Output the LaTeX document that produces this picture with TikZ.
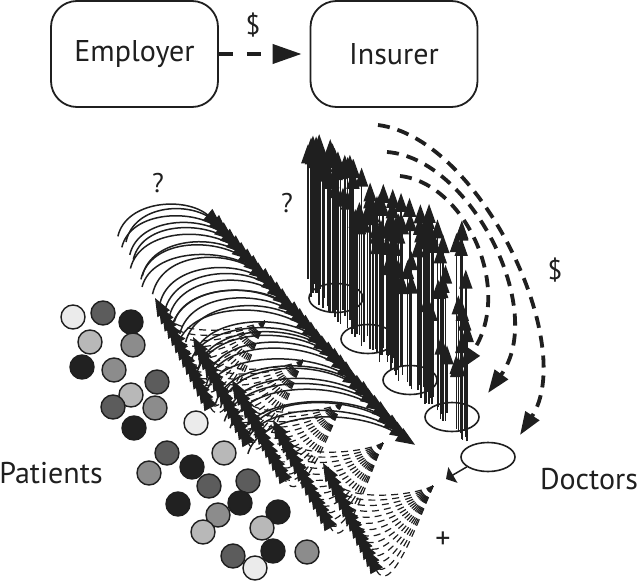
\documentclass[tikz,border=0pt]{standalone}
\usepackage{fontspec}
\setmainfont{PT Sans}
\usetikzlibrary{arrows.meta,shapes.geometric}
\definecolor{ink}{gray}{0.12}
\definecolor{pvl}{gray}{0.92}
\definecolor{plg}{gray}{0.72}
\definecolor{pmg}{gray}{0.55}
\definecolor{pdg}{gray}{0.36}
\definecolor{pbk}{gray}{0.13}
\begin{document}
\begin{tikzpicture}[x=1pt,y=-1pt,
  box/.style={draw=ink, line width=1.8pt, rounded corners=26pt, minimum width=167pt, minimum height=106pt, inner sep=0pt, font=\fontsize{30}{32}\selectfont, text=ink},
  doc/.style={draw=ink, line width=1.6pt, ellipse, minimum width=54pt, minimum height=29pt, inner sep=0pt},
  pat/.style={circle, draw=ink, line width=1.4pt, minimum size=24pt, inner sep=0pt},
  lbl/.style={font=\fontsize{30}{32}\selectfont, text=ink, inner sep=0pt},
  sym/.style={font=\fontsize{27}{29}\selectfont, text=ink, inner sep=0pt},
  money/.style={line width=4pt, draw=ink, dash pattern=on 14pt off 14pt, -{Triangle[length=29pt,width=19pt]}},
  moneyarc/.style={line width=3.8pt, draw=ink, dash pattern=on 12pt off 8pt, -{Triangle[length=23pt,width=16pt]}},
  varr/.style={line width=1.5pt, draw=ink, -{Triangle[length=19pt,width=13pt]}},
  sarc/.style={line width=1.5pt, draw=ink, -{Triangle[length=19pt,width=15pt]}},
  darc/.style={line width=1.2pt, draw=ink, dash pattern=on 7pt off 5pt, -{Triangle[length=18pt,width=14pt]}},
]
\useasboundingbox (0,0) rectangle (640,581);

% top boxes
\node[box] (emp) at (134.5,54) {Employer};
\node[box] (ins) at (394,54) {Insurer};
\draw[money] (emp.east) -- ([xshift=-8pt]ins.west);
\node[sym] (d1lab) at (253,25) {\$};

% solid arcs (patients -> doctors)
\pgfmathsetseed{4242}
\foreach \k in {0,...,33}{
  \pgfmathsetmacro\ex{222+5.85*\k}
  \pgfmathsetmacro\ey{227+6.6*\k}
  \pgfmathsetmacro\jit{rnd}
  \pgfmathsetmacro\L{100+1.8*\k+14*\jit}
  \pgfmathsetmacro\sx{\ex-\L}
  \pgfmathsetmacro\sy{\ey+6+6*rnd}
  \pgfmathsetmacro\h{\L*(0.36-0.003*\k)*(0.9+0.2*rnd)}
  \draw[sarc] (\sx,\sy) .. controls +(0.08*\L,-\h) and +(-0.35*\L,-0.85*\h) .. (\ex,\ey);
}

% dashed arcs (doctors -> patients): each band fans out from one point
\foreach \tx/\ty/\bx/\by in {155/298/202/392, 193/337/240/428, 232/380/277/465, 273/420/322/512, 323/463/368/555}{
  \coordinate (fan) at (\tx+110,\ty+23);
  \foreach \j in {0,...,13}{
    \pgfmathsetmacro\px{\tx+(\bx-\tx)*\j/13}
    \pgfmathsetmacro\py{\ty+(\by-\ty)*\j/13}
    \draw[darc] (fan) .. controls +(-20,10+3*\j) and +(22,40) .. (\px,\py);
  }
}

% vertical arrows (doctors -> insurer)
\pgfmathsetseed{12345}
\foreach \i in {1,...,115}{
  \pgfmathsetmacro\u{rnd}
  \pgfmathsetmacro\xx{306+162*\u}
  \pgfmathsetmacro\v{rnd}
  \pgfmathsetmacro\ytop{122+(\xx-306)*0.6+\v*(20+(\xx-306)*0.85)}
  \pgfmathsetmacro\w{rnd}
  \pgfmathsetmacro\ybot{275+(\xx-306)*0.95+18*\w}
  \draw[varr] (\xx,\ybot) -- (\xx,\ytop);
}

% dashed money arcs (insurer -> doctors)
\draw[moneyarc] (378,125) .. controls (480,138) and (578,345) .. (520,435);
\draw[moneyarc] (387,152) .. controls (470,158) and (548,310) .. (488,393);
\draw[moneyarc] (400,176) .. controls (465,183) and (515,290) .. (460,370);
\node[sym] (d2lab) at (555,270) {\$};

% doctors
\node[doc] (d1) at (336,298) {};
\node[doc] (d2) at (368,339) {};
\node[doc] (d3) at (410,380) {};
\node[doc] (d4) at (452,417) {};
\node[doc] (d5) at (488,457) {};
\coordinate (d5end) at (446,479);
\draw[line width=1.5pt, draw=ink, -{Triangle[length=8pt,width=18pt]}] (d5.205) -- (d5end);

% patients
\foreach \n/\px/\py/\c in {
 1/73/317/pvl, 2/103/313/pdg, 3/131/322/pbk, 4/90/342/plg, 5/133/345/pmg,
 6/82/367/pbk, 7/114/370/pmg, 8/157/382/pdg, 9/131/395/plg, 10/113/407/pdg,
 11/155/408/pmg, 12/134/428/pbk, 13/196/423/pvl, 14/167/453/pdg, 15/224/453/plg,
 16/149/473/pmg, 17/192/467/pbk, 18/209/486/pdg, 19/248/481/pdg, 20/178/504/pbk,
 21/240/503/pbk, 22/218/515/pmg, 23/203/532/plg, 24/278/512/pbk, 25/262/528/plg,
 26/233/556/pdg, 27/273/551/pbk, 28/255/568/pvl, 29/307/552/pmg}{
  \node[pat, fill=\c] (p\n) at (\px,\py) {};
}

% labels
\node[lbl] (patlab) at (51,473) {Patients};
\node[lbl] (doclab) at (589,479) {Doctors};
\node[sym] (q1) at (158,183) {?};
\node[sym] (q2) at (287,203) {?};
\node[lbl] (plus) at (443,540) {+};
\end{tikzpicture}
\end{document}
